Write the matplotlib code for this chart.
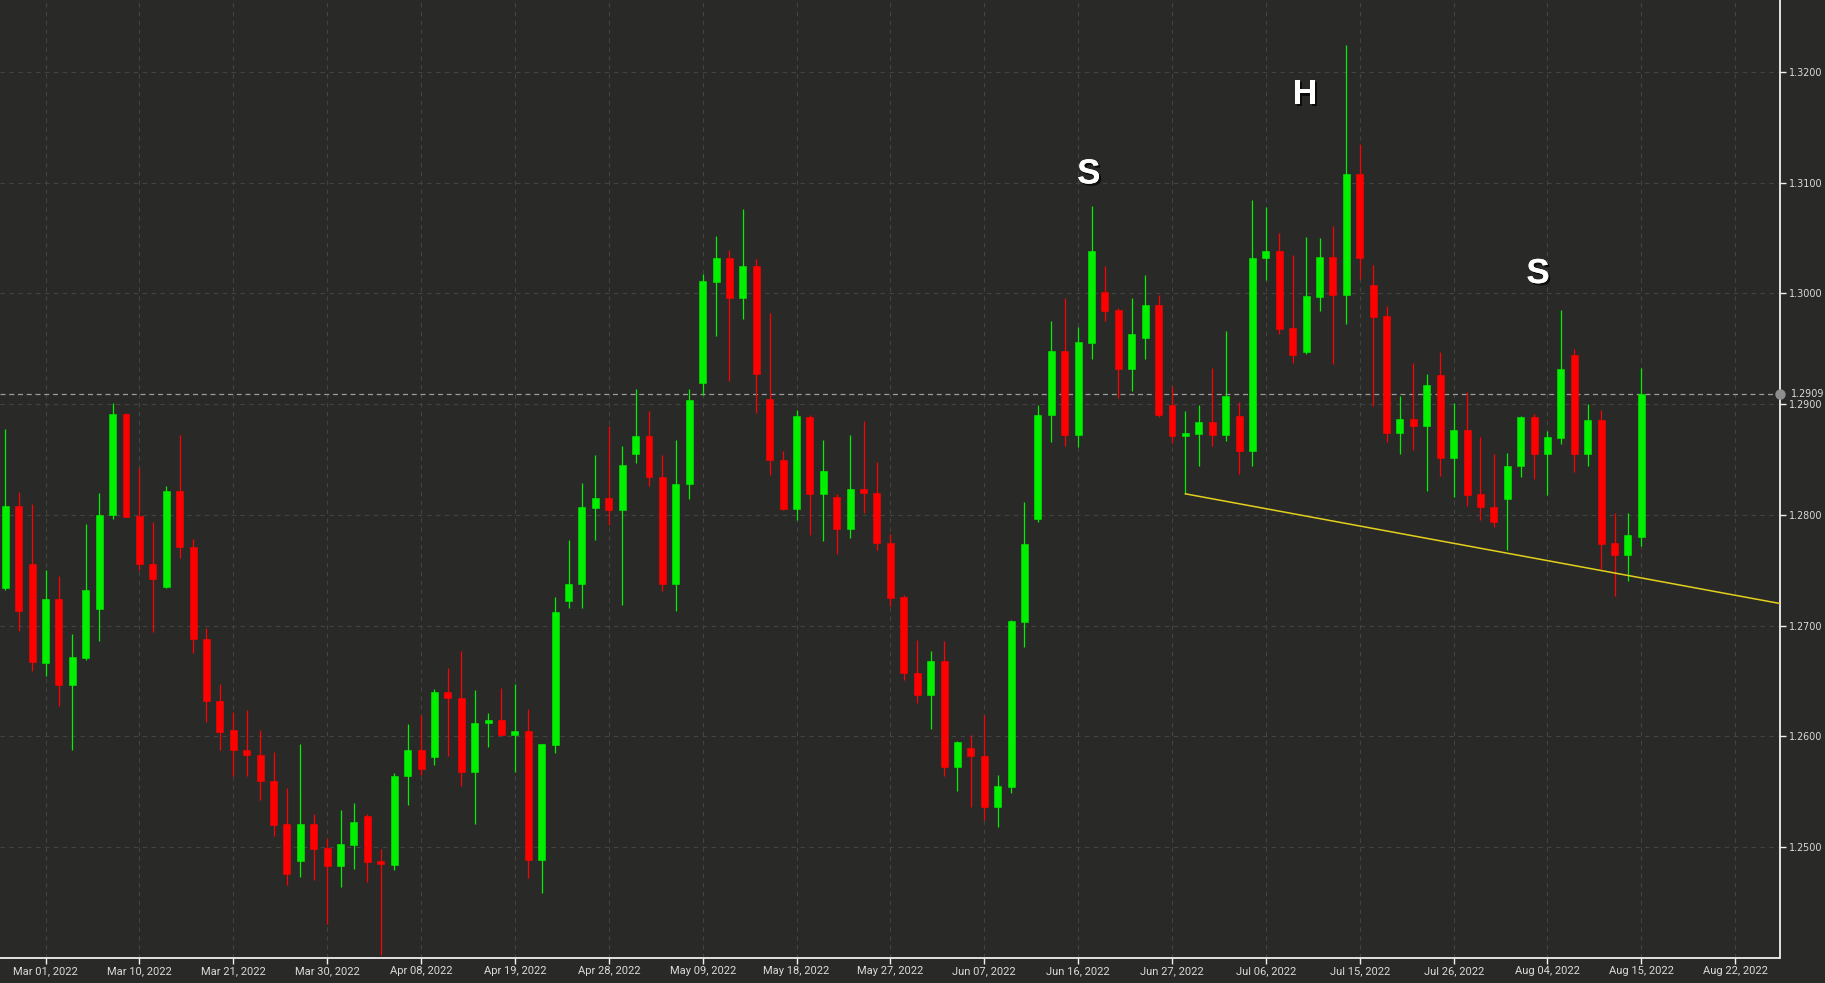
import matplotlib
matplotlib.use("Agg")
import matplotlib.pyplot as plt
import matplotlib.patheffects as pe
from matplotlib.transforms import blended_transform_factory
import numpy as np

# daily GBP/USD style candles, Feb 24 2022 .. Aug 15 2022 (one per weekday)
opens = [
    1.2734, 1.2808, 1.2756, 1.2666, 1.2724, 1.2646, 1.2671, 1.2715, 1.2800, 1.2891,
    1.2799, 1.2756, 1.2735, 1.2822, 1.2771, 1.2688, 1.2632, 1.2606, 1.2588, 1.2583,
    1.2560, 1.2521, 1.2487, 1.2521, 1.2499, 1.2483, 1.2502, 1.2528, 1.2487, 1.2484,
    1.2564, 1.2588, 1.2581, 1.2640, 1.2635, 1.2568, 1.2612, 1.2615, 1.2601, 1.2605,
    1.2488, 1.2592, 1.2722, 1.2738, 1.2806, 1.2815, 1.2804, 1.2855, 1.2871, 1.2834,
    1.2738, 1.2828, 1.2919, 1.3010, 1.3032, 1.2996, 1.3025, 1.2905, 1.2850, 1.2805,
    1.2888, 1.2819, 1.2816, 1.2787, 1.2823, 1.2820, 1.2775, 1.2726, 1.2657, 1.2637,
    1.2668, 1.2572, 1.2589, 1.2582, 1.2536, 1.2554, 1.2703, 1.2796, 1.2890, 1.2948,
    1.2872, 1.2955, 1.3001, 1.2985, 1.2932, 1.2960, 1.2990, 1.2899, 1.2871, 1.2873,
    1.2884, 1.2872, 1.2889, 1.2858, 1.3032, 1.3038, 1.2969, 1.2947, 1.2997, 1.3033,
    1.2999, 1.3108, 1.3008, 1.2980, 1.2874, 1.2887, 1.2880, 1.2926, 1.2851, 1.2877,
    1.2819, 1.2807, 1.2814, 1.2844, 1.2888, 1.2855, 1.2869, 1.2944, 1.2855, 1.2886,
    1.2775, 1.2764, 1.2780,
]
highs = [
    1.2878, 1.2821, 1.2810, 1.2750, 1.2745, 1.2692, 1.2792, 1.2820, 1.2901, 1.2892,
    1.2842, 1.2794, 1.2826, 1.2872, 1.2778, 1.2698, 1.2647, 1.2622, 1.2624, 1.2606,
    1.2586, 1.2553, 1.2593, 1.2530, 1.2508, 1.2533, 1.2540, 1.2530, 1.2498, 1.2567,
    1.2611, 1.2619, 1.2643, 1.2662, 1.2677, 1.2642, 1.2621, 1.2644, 1.2647, 1.2625,
    1.2593, 1.2726, 1.2777, 1.2829, 1.2854, 1.2880, 1.2862, 1.2914, 1.2894, 1.2854,
    1.2868, 1.2914, 1.3018, 1.3052, 1.3039, 1.3076, 1.3031, 1.2982, 1.2858, 1.2895,
    1.2890, 1.2868, 1.2819, 1.2872, 1.2885, 1.2848, 1.2783, 1.2728, 1.2687, 1.2677,
    1.2686, 1.2596, 1.2601, 1.2619, 1.2565, 1.2705, 1.2812, 1.2899, 1.2975, 1.2996,
    1.2970, 1.3079, 1.3025, 1.2987, 1.2996, 1.3017, 1.2999, 1.2916, 1.2894, 1.2899,
    1.2933, 1.2966, 1.2902, 1.3084, 1.3078, 1.3055, 1.3035, 1.3051, 1.3050, 1.3061,
    1.3224, 1.3135, 1.3026, 1.2989, 1.2907, 1.2937, 1.2927, 1.2947, 1.2901, 1.2911,
    1.2870, 1.2855, 1.2856, 1.2889, 1.2891, 1.2876, 1.2985, 1.2950, 1.2900, 1.2895,
    1.2802, 1.2802, 1.2933,
]
lows = [
    1.2732, 1.2695, 1.2659, 1.2654, 1.2627, 1.2588, 1.2669, 1.2686, 1.2796, 1.2798,
    1.2750, 1.2694, 1.2734, 1.2761, 1.2675, 1.2613, 1.2588, 1.2564, 1.2564, 1.2542,
    1.2510, 1.2466, 1.2473, 1.2470, 1.2430, 1.2464, 1.2480, 1.2468, 1.2402, 1.2479,
    1.2538, 1.2565, 1.2574, 1.2582, 1.2555, 1.2521, 1.2590, 1.2600, 1.2568, 1.2472,
    1.2458, 1.2585, 1.2716, 1.2716, 1.2777, 1.2791, 1.2719, 1.2847, 1.2826, 1.2731,
    1.2713, 1.2814, 1.2908, 1.2962, 1.2921, 1.2977, 1.2892, 1.2836, 1.2804, 1.2795,
    1.2782, 1.2776, 1.2765, 1.2779, 1.2802, 1.2768, 1.2718, 1.2651, 1.2630, 1.2607,
    1.2564, 1.2551, 1.2536, 1.2524, 1.2518, 1.2549, 1.2681, 1.2794, 1.2866, 1.2862,
    1.2861, 1.2941, 1.2975, 1.2906, 1.2912, 1.2941, 1.2888, 1.2865, 1.2819, 1.2844,
    1.2862, 1.2867, 1.2837, 1.2844, 1.3012, 1.2963, 1.2937, 1.2945, 1.2984, 1.2936,
    1.2972, 1.3013, 1.2898, 1.2866, 1.2855, 1.2859, 1.2822, 1.2835, 1.2816, 1.2808,
    1.2795, 1.2789, 1.2768, 1.2834, 1.2832, 1.2818, 1.2864, 1.2839, 1.2844, 1.2751,
    1.2727, 1.2740, 1.2772,
]
closes = [
    1.2808, 1.2713, 1.2667, 1.2724, 1.2646, 1.2672, 1.2732, 1.2800, 1.2891, 1.2798,
    1.2756, 1.2742, 1.2822, 1.2771, 1.2688, 1.2632, 1.2604, 1.2588, 1.2583, 1.2560,
    1.2520, 1.2476, 1.2521, 1.2498, 1.2483, 1.2503, 1.2523, 1.2486, 1.2485, 1.2564,
    1.2588, 1.2570, 1.2640, 1.2635, 1.2568, 1.2612, 1.2615, 1.2601, 1.2605, 1.2488,
    1.2593, 1.2712, 1.2738, 1.2807, 1.2815, 1.2804, 1.2845, 1.2871, 1.2834, 1.2738,
    1.2828, 1.2904, 1.3011, 1.3032, 1.2996, 1.3025, 1.2927, 1.2850, 1.2805, 1.2889,
    1.2819, 1.2840, 1.2787, 1.2823, 1.2820, 1.2775, 1.2725, 1.2657, 1.2637, 1.2668,
    1.2572, 1.2595, 1.2582, 1.2536, 1.2555, 1.2704, 1.2774, 1.2890, 1.2948, 1.2872,
    1.2956, 1.3038, 1.2984, 1.2932, 1.2963, 1.2990, 1.2890, 1.2871, 1.2874, 1.2884,
    1.2872, 1.2907, 1.2858, 1.3032, 1.3038, 1.2968, 1.2944, 1.2998, 1.3033, 1.2999,
    1.3108, 1.3032, 1.2979, 1.2874, 1.2887, 1.2880, 1.2917, 1.2851, 1.2877, 1.2818,
    1.2807, 1.2794, 1.2844, 1.2888, 1.2855, 1.2870, 1.2932, 1.2855, 1.2886, 1.2774,
    1.2764, 1.2782, 1.2909,
]

tick_labels = [
    "Mar 01, 2022", "Mar 10, 2022", "Mar 21, 2022", "Mar 30, 2022", "Apr 08, 2022",
    "Apr 19, 2022", "Apr 28, 2022", "May 09, 2022", "May 18, 2022", "May 27, 2022",
    "Jun 07, 2022", "Jun 16, 2022", "Jun 27, 2022", "Jul 06, 2022", "Jul 15, 2022",
    "Jul 26, 2022", "Aug 04, 2022", "Aug 15, 2022", "Aug 22, 2022",
]
price_ticks = [1.25, 1.26, 1.27, 1.28, 1.29, 1.30, 1.31, 1.32]
last_price = 1.2909

# neckline drawn from the Jun 28 low out to the right edge
trend_x = [88, 132.3]
trend_y = [1.2819, 1.2720]

# head & shoulders markers
pattern_labels = ["S", "H", "S"]
pattern_x = [80.8, 96.9, 114.3]
pattern_y = [1.3108, 1.3180, 1.3018]

COLORS = {
    "bg": "#292a28",
    "grid": "#434442",
    "up": "#00f000",
    "down": "#ff0000",
    "axis": "#f0f0f0",
    "text": "#dadada",
    "last": "#9c9c9c",
    "trend": "#e3cf1c",
}


def draw_candles(ax):
    o = np.array(opens)
    c = np.array(closes)
    x = np.arange(len(o))
    up = c >= o
    colors = np.where(up, COLORS["up"], COLORS["down"])
    ax.vlines(x, lows, highs, colors=colors, linewidth=0.9, zorder=3)
    bottom = np.minimum(o, c)
    height = np.maximum(np.abs(c - o), 0.00012)
    ax.bar(x, height, bottom=bottom, width=0.52, color=colors, edgecolor=colors,
           linewidth=0.4, zorder=4)


fig = plt.figure(figsize=(18.25, 9.83), dpi=100, facecolor=COLORS["bg"])
ax = fig.add_axes([0, 25 / 983, 1779.5 / 1825, 958 / 983])
ax.set_facecolor(COLORS["bg"])

draw_candles(ax)

ax.set_xlim(-0.395, 132.3)
ax.set_ylim(1.23997, 1.32651)

ax.set_xticks(np.arange(3, 3 + 7 * len(tick_labels), 7))
ax.set_xticklabels(tick_labels, family=["Liberation Sans Narrow", "Roboto", "DejaVu Sans"],
                   fontsize=8.0, color=COLORS["text"])
ax.yaxis.tick_right()
ax.set_yticks(price_ticks)
ax.set_yticklabels([f"{p:.4f}" for p in price_ticks], fontsize=6.9, color=COLORS["text"])
ax.tick_params(axis="x", length=4, width=1, color=COLORS["axis"], pad=2)
ax.tick_params(axis="y", length=4, width=1, color=COLORS["axis"], pad=3)

ax.grid(True, color=COLORS["grid"], linewidth=0.8, linestyle=(0, (4, 4)), zorder=0)

for side in ("top", "left"):
    ax.spines[side].set_visible(False)
for side in ("right", "bottom"):
    ax.spines[side].set_color(COLORS["axis"])
    ax.spines[side].set_linewidth(1.3)

# last price line + marker on the price axis
ax.axhline(last_price, color=COLORS["last"], linewidth=0.9, linestyle=(0, (4, 3)), zorder=2)
ax.plot([1.0], [last_price], "o", color="#8e8e8e", markersize=6.5, clip_on=False,
        transform=blended_transform_factory(ax.transAxes, ax.transData), zorder=6)
ax.annotate(f"{last_price:.4f}", xy=(1.0, last_price),
            xycoords=blended_transform_factory(ax.transAxes, ax.transData),
            xytext=(8, 0), textcoords="offset points", ha="left", va="center",
            fontsize=6.9, color=COLORS["text"], annotation_clip=False)

ax.plot(trend_x, trend_y, color=COLORS["trend"], linewidth=1.1, zorder=5, clip_on=True)

shadow = [pe.withSimplePatchShadow(offset=(1.5, -1.5), shadow_rgbFace="black", alpha=0.7),
          pe.Normal()]
for label, px, py in zip(pattern_labels, pattern_x, pattern_y):
    ax.text(px, py, label, ha="center", va="center", fontsize=25, weight="bold",
            family=["Liberation Sans", "DejaVu Sans"], color="white",
            path_effects=shadow, zorder=7)

fig.savefig("out.png", dpi=100, facecolor=COLORS["bg"])
